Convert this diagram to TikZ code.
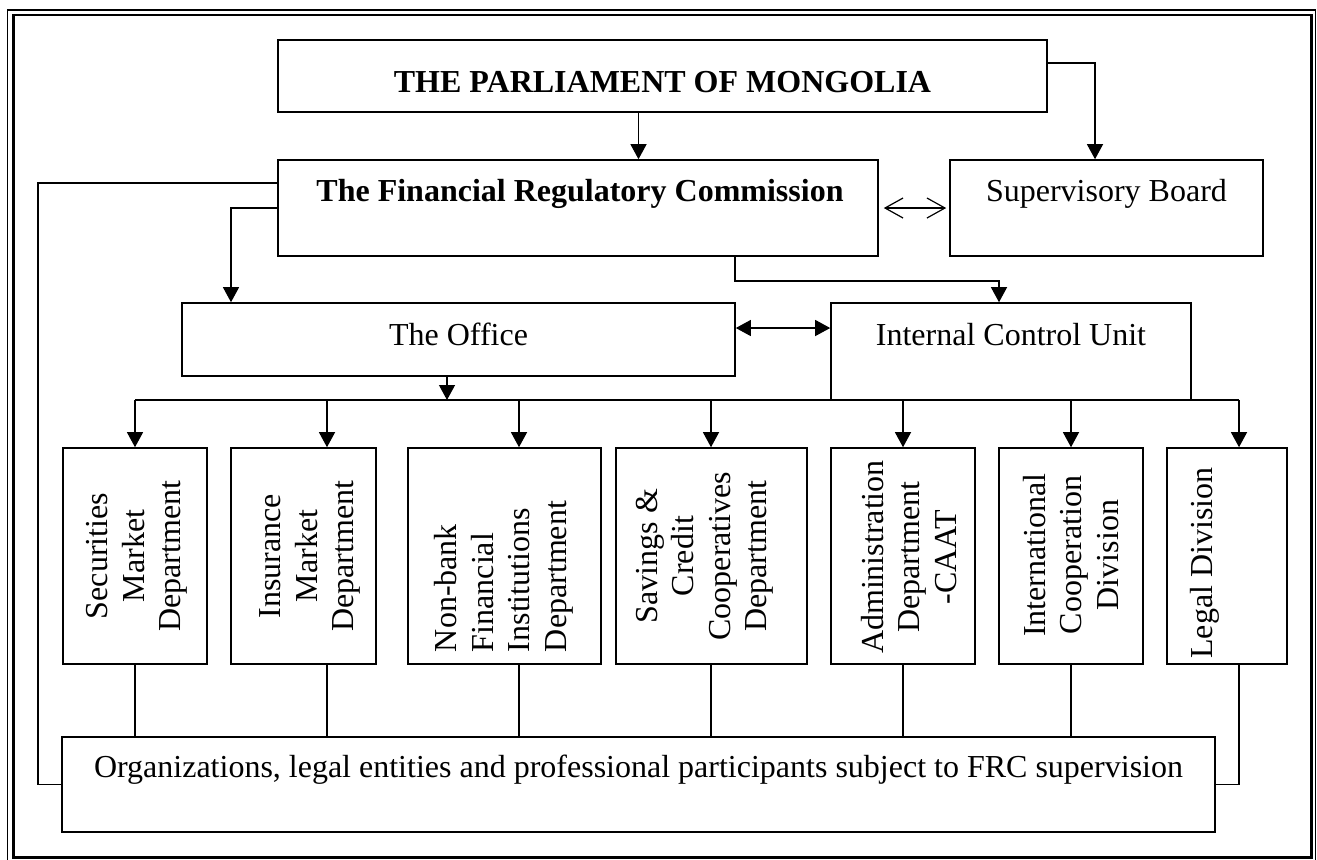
\documentclass[tikz,border=0pt]{standalone}
\usepackage{fontspec}
\setmainfont{Liberation Serif}
\usetikzlibrary{arrows.meta}

\begin{document}
\begin{tikzpicture}[x=0.5pt,y=-0.5pt,
	every node/.style={font=\fontsize{16}{18.25}\selectfont},
	box/.style={draw,line width=0.8pt,inner sep=0pt},
	txt/.style={anchor=base,inner sep=0pt},
	vtxt/.style={rotate=90,align=center,inner sep=0pt},
	line/.style={line width=0.6pt},
	arr/.style={line width=0.6pt,-{Triangle[length=7.5pt,width=8pt]}},
	both/.style={line width=0.6pt,{Triangle[length=7.5pt,width=8pt]}-{Triangle[length=7.5pt,width=8pt]}},
	open/.style={line width=0.6pt,{Straight Barb[length=9pt,width=10pt]}-{Straight Barb[length=9pt,width=10pt]}}]
				\useasboundingbox (0,0) rectangle (1317,859);
				\draw[line width=0.6pt] (7.5,10) rectangle (1315.5,866);
				\draw[line width=1.3pt] (13.3,15) rectangle (1311.3,857.3);

				\node[box,minimum width=384.5pt,minimum height=36pt] (par) at (662.5,76) {};
				\node[txt] (partxt) at (662.5,92) {\bfseries THE PARLIAMENT OF MONGOLIA};
				\node[box,minimum width=300pt,minimum height=48pt] (frc) at (578,208) {};
				\node[txt] (frctxt) at (580,201) {\bfseries The Financial Regulatory Commission};
				\node[box,minimum width=156.5pt,minimum height=48pt] (sb) at (1106.5,208) {};
				\node[txt] (sbtxt) at (1106.5,201) {Supervisory Board};
				\node[box,minimum width=276.5pt,minimum height=36.5pt] (office) at (458.5,339.5) {};
				\node[txt] (officetxt) at (458.5,345) {The Office};
				\node[box,minimum width=180pt,minimum height=48.5pt] (icu) at (1011,351.5) {};
				\node[txt] (icutxt) at (1011,345) {Internal Control Unit};

				\foreach \n/\x/\w in {sec/135/72,ins/303.5/72.5,nbf/504.5/96.5,scc/711.5/95.5,adm/903/72,intl/1071/72,legal/1227/60}
					\node[box,minimum width=\w pt,minimum height=108pt] (\n) at (\x,556) {};
				\node[vtxt] (sectxt) at (137,556) {Securities\\Market\\Department};
				\node[vtxt] (instxt) at (310,556) {Insurance\\Market\\Department};
				\node[vtxt,align=left,text width=96pt] (nbftxt) at (504,556) {Non-bank\\Financial\\Institutions\\Department};
				\node[vtxt] (scctxt) at (705,556) {Savings \&\\Credit\\Cooperatives\\Department};
				\node[vtxt] (admtxt) at (909,557) {Administration\\Department\\-CAAT};
				\node[vtxt] (intltxt) at (1071,555) {International\\Cooperation\\Division};
				\node[vtxt] (legaltxt) at (1205,563) {Legal Division};

				\node[box,minimum width=576.5pt,minimum height=47.5pt] (org) at (638.5,784.5) {};
				\node[txt] (orgtxt) at (638.5,777) {Organizations, legal entities and professional participants subject to FRC supervision};

				\draw[arr] (638.5,0 |- par.south) -- (638.5,0 |- frc.north);
				\draw[arr] (par.east |- 0,63) -| (1095,0 |- sb.north);
				\draw[open,shorten <=2.5pt,shorten >=1.5pt] (frc.east) -- (sb.west);
				\draw[arr] (frc.west) -| (231,0 |- office.north);
				\draw[line] (frc.west |- 0,183) -| (38,0 |- org.west) -- (org.west);
				\draw[arr] (735,0 |- frc.south) |- (999,281) -- (999,0 |- icu.north);
				\draw[both] (office.east |- 0,328) -- (icu.west |- 0,328);

				\coordinate (busl) at (135,400);
				\coordinate (busr) at (1239,400);
				\draw[line] (busl) -- (busr);
				\draw[arr] (447,0 |- office.south) -- (447,400);
				\foreach \n/\x in {sec/135,ins/327,nbf/519,scc/711,adm/903,intl/1071}{
					\draw[arr] (\x,400) -- (\x,0 |- \n.north);
					\draw[line] (\x,0 |- \n.south) -- (\x,0 |- org.north);
				}
				\draw[arr] (busr) -- (busr |- legal.north);
				\draw[line] (busr |- legal.south) |- (org.east);
			\end{tikzpicture}
\end{document}
